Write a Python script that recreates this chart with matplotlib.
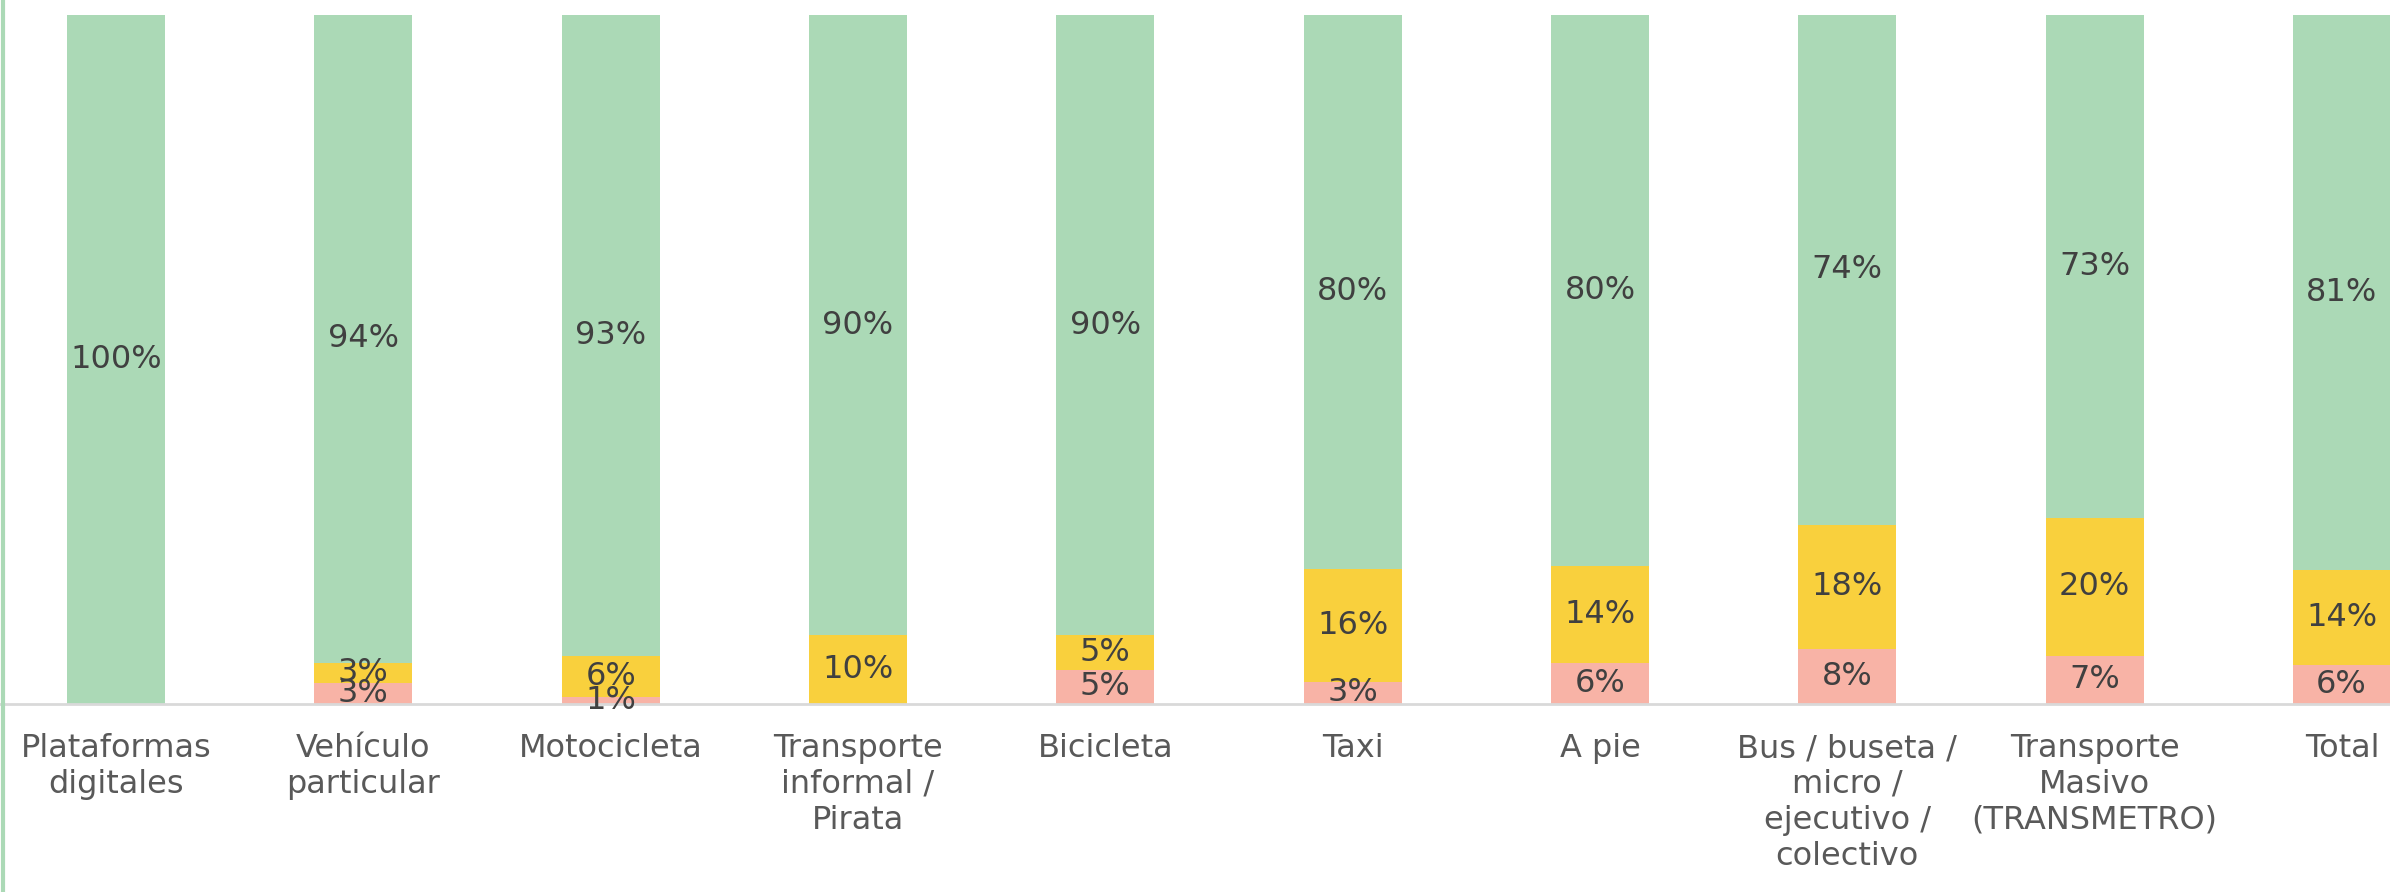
import matplotlib.pyplot as plt
from matplotlib.lines import Line2D

# categories and shares (%), stacked bottom -> top
categorias = ['Plataformas\ndigitales', 'Vehículo\nparticular', 'Motocicleta',
              'Transporte\ninformal /\nPirata', 'Bicicleta', 'Taxi', 'A pie',
              'Bus / buseta /\nmicro /\nejecutivo /\ncolectivo',
              'Transporte\nMasivo\n(TRANSMETRO)', 'Total']
rosa = [0, 3.0, 1.0, 0, 5.0, 3.2, 6.0, 8.0, 7.0, 5.7]
amarillo = [0, 3.0, 6.0, 10.0, 5.0, 16.4, 14.0, 18.0, 20.0, 13.7]
verde = [100, 94.0, 93.0, 90.0, 90.0, 80.4, 80.0, 74.0, 73.0, 80.6]

c_verde = '#ABD9B6'
c_amarillo = '#F9D03D'
c_rosa = '#F8B3A6'

plt.rcParams['font.family'] = ['DejaVu Sans']

fig = plt.figure(figsize=(23.9, 8.92), dpi=100)
ax = fig.add_axes([0, 0.2108, 1, 0.7724])

x = range(len(categorias))
w = 0.396
b1 = ax.bar(x, rosa, w, color=c_rosa)
b2 = ax.bar(x, amarillo, w, bottom=rosa, color=c_amarillo)
base3 = [r + a for r, a in zip(rosa, amarillo)]
b3 = ax.bar(x, verde, w, bottom=base3, color=c_verde)

for bars in (b1, b2, b3):
    labels = ['' if r.get_height() == 0 else '{:.0f}%'.format(r.get_height()) for r in bars]
    ax.bar_label(bars, labels=labels, label_type='center', fontsize=23, color='#404040')

ax.set_xlim(-0.469, 9.194)
ax.set_ylim(0, 100)
ax.set_xticks(list(x))
ax.set_xticklabels(categorias, fontsize=23, color='#595959', linespacing=1.2, va='top')
ax.tick_params(axis='x', length=0, pad=21)
ax.set_yticks([])
for s in ('top', 'right', 'left'):
    ax.spines[s].set_visible(False)
ax.spines['bottom'].set_color('#D9D9D9')
ax.spines['bottom'].set_linewidth(2)

# thin green strip on the left border
fig.add_artist(Line2D([0.0012, 0.0012], [0, 1], color=c_verde, lw=3, transform=fig.transFigure))

fig.savefig('out.png', dpi=100, facecolor='white')
